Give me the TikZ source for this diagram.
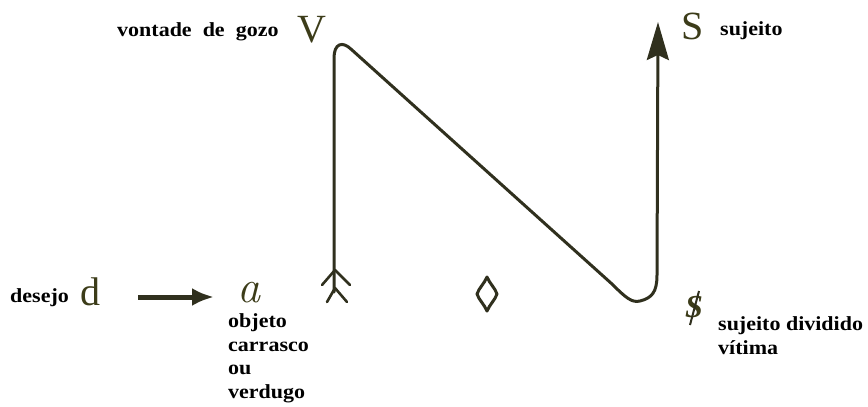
\documentclass[tikz,border=0pt]{standalone}
\usepackage{fontspec}
\usepackage{graphicx}
\setmainfont{Liberation Serif}
\newfontfamily\labfont{Liberation Serif Bold}
\newfontfamily\lmfont{Latin Modern Roman}
\usetikzlibrary{arrows.meta}
\definecolor{ink}{RGB}{48,48,30}
\newcommand{\stretchlab}[1]{\scalebox{1.1}[1]{\begin{tabular}{@{}l@{}}#1\end{tabular}}}
\tikzset{
  lab/.style={font=\labfont\fontsize{20}{23.5}\selectfont, text=black, inner sep=0pt},
  big/.style={font=\fontsize{40}{40}\selectfont, text=ink!85!olive, inner sep=0pt},
  stroke/.style={draw=ink, line width=3pt, line cap=round, line join=round},
}
\begin{document}
\begin{tikzpicture}[x=1pt,y=-1pt]
\useasboundingbox (0,0) rectangle (868,407);
% big letters
\node[big] (V) at (312,30) {V};
\node[big] (S) at (693,26) {S};
\node[big] (d) at (90,292) {d};
\node[big, font=\lmfont\itshape\fontsize{46}{46}\selectfont] (a) at (249,293) {a};
\node[big, font=\bfseries\itshape\fontsize{32}{32}\selectfont] (sb) at (694,307) {S};
\draw[draw=ink, line width=2pt] (699,291) -- (690,325);
% diamond (lozenge)
\coordinate (dia) at (487,294);
\draw[stroke, line width=3pt] (487,277) .. controls (490,284) and (495,288) .. (497,294)
  .. controls (495,300) and (490,304) .. (487,311)
  .. controls (484,304) and (479,300) .. (477,294)
  .. controls (479,288) and (484,284) .. cycle;
% labels
\node[lab, anchor=base west] (lv) at (117,37) {\stretchlab{vontade\ \ de\ \ gozo}};
\node[lab, anchor=base west] (ls) at (720,36) {\stretchlab{sujeito}};
\node[lab, anchor=base west] (ld) at (10,303) {\stretchlab{desejo}};
\node[lab, anchor=north west] (la) at (228,311) {\stretchlab{objeto\\carrasco\\ou\\verdugo}};
\node[lab, anchor=north west] (lsb) at (718,314) {\stretchlab{sujeito dividido\\vítima}};
% coordinates of the N path
\coordinate (p0) at (334,292);
\coordinate (p1) at (658,22);
% arrow d -> a
\draw[draw=ink, line width=5pt, -{Latex[length=22pt,width=18pt]}] (138,297) -- (214,297);
% N path
\draw[stroke, -{Stealth[length=38pt,width=22pt,inset=5pt]}]
  (p0) -- (334,58) .. controls (334,44) and (342,40) .. (352,50)
  -- (612,284) .. controls (626,298) and (632,303) .. (640,301)
  .. controls (652,298) and (657,292) .. (657,275) -- (p1);
% feather tail
\draw[stroke, line width=2.6pt] (322,285) -- (335,270) -- (350,285);
\draw[stroke, line width=2.6pt] (327,302) -- (335,288) -- (347,302);
\end{tikzpicture}
\end{document}
